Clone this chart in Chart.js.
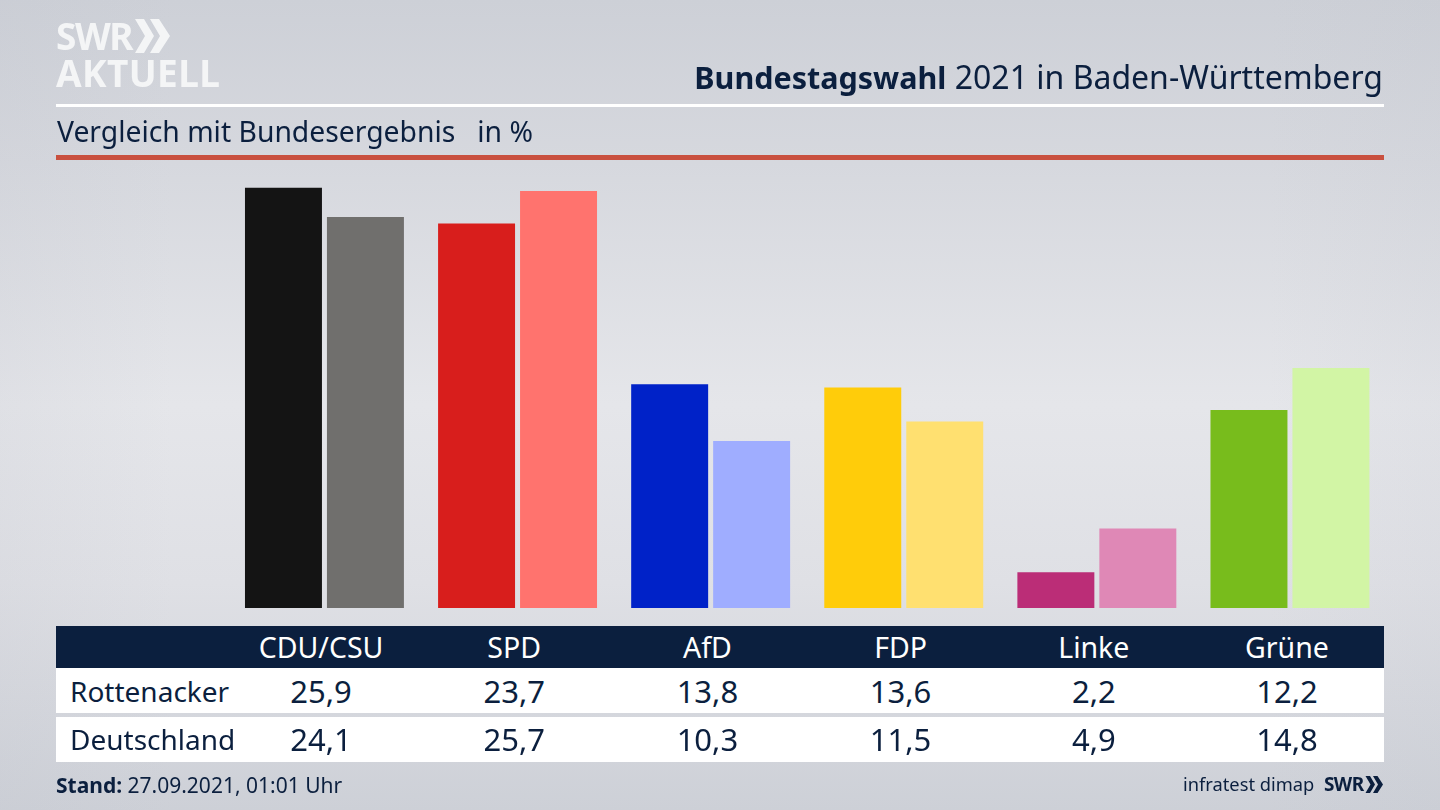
<!DOCTYPE html>
<html lang="de">
<head>
<meta charset="utf-8">
<title>Bundestagswahl 2021 in Baden-Württemberg</title>
<script src="https://cdn.jsdelivr.net/npm/chart.js@4"></script>
<style>
  html, body { margin: 0; padding: 0; width: 1440px; height: 810px; overflow: hidden; }
  body {
    position: relative;
    font-family: "Noto Sans", sans-serif;
    color: #0b1f3e;
    background:
      linear-gradient(90deg, rgba(190,193,202,.15) 0, rgba(190,193,202,0) 12%, rgba(190,193,202,0) 88%, rgba(190,193,202,.12) 100%),
      linear-gradient(180deg, #cdd0d7 0, #d6d8de 20%, #e5e6ea 50%, #dfe0e5 72%, #cdd0d7 100%);
  }
  canvas { position: absolute; left: 0; top: 0; }
  .abs { position: absolute; white-space: nowrap; line-height: 1; }
  .rule { position: absolute; left: 56px; width: 1328px; }
  .band { position: absolute; left: 56px; width: 1328px; }
  .cell { position: absolute; transform: translate(-50%, -50%); white-space: nowrap; line-height: 1; font-size: 28.5px; }
  .num { font-size: 31px; }
  .rowname { position: absolute; left: 70px; transform: translateY(-50%); white-space: nowrap; line-height: 1; font-size: 28px; }
</style>
</head>
<body>
<canvas id="chart" width="1440" height="810"></canvas>

<div class="abs" style="left:56px;top:17px;font-size:37px;font-weight:700;color:#f4f5f6;letter-spacing:-1.5px;">SWR</div>
<svg class="abs" style="left:135px;top:19px" width="36" height="34" viewBox="0 0 36 34">
  <polygon points="0,0 9,0 19,17 9,34 0,34 10,17" fill="#f4f5f6"/>
  <polygon points="15,0 24,0 35,17 24,34 15,34 25,17" fill="#f4f5f6"/>
</svg>
<div class="abs" style="left:56px;top:54px;font-size:37px;font-weight:700;color:#f4f5f6;letter-spacing:.4px;">AKTUELL</div>

<div class="abs" style="right:57px;top:61px;font-size:32px;"><b style="font-size:30.5px">Bundestagswahl</b> 2021 in Baden-Württemberg</div>
<div class="rule" style="top:104px;height:3px;background:#fff;"></div>
<div class="abs" style="left:57px;top:117px;font-size:28.3px;">Vergleich mit Bundesergebnis&nbsp;&nbsp; in %</div>
<div class="rule" style="top:155px;height:5px;background:#c9503f;"></div>

<div class="band" style="top:626px;height:42px;background:#0b1f3e;"></div>
<div class="band" style="top:668px;height:45px;background:#fff;"></div>
<div class="band" style="top:717px;height:45px;background:#fff;"></div>
<div id="table"></div>

<div class="abs" style="left:56px;top:775px;font-size:21px;"><b>Stand:</b> 27.09.2021, 01:01 Uhr</div>
<div class="abs" style="left:1183px;top:775px;font-size:18.3px;">infratest dimap</div>
<div class="abs" style="left:1324px;top:775px;font-size:19px;font-weight:700;letter-spacing:-.6px;">SWR</div>
<svg class="abs" style="left:1365px;top:776px" width="19" height="17" viewBox="0 0 36 34">
  <polygon points="0,0 9,0 19,17 9,34 0,34 10,17" fill="#0b1f3e"/>
  <polygon points="15,0 24,0 35,17 24,34 15,34 25,17" fill="#0b1f3e"/>
</svg>

<script>
const parties = ['CDU/CSU', 'SPD', 'AfD', 'FDP', 'Linke', 'Grüne'];
const rowNames = ['Rottenacker', 'Deutschland'];
const rottenacker = [25.9, 23.7, 13.8, 13.6, 2.2, 12.2];
const deutschland = [24.1, 25.7, 10.3, 11.5, 4.9, 14.8];
const strongColors = ['#141414', '#d81e1c', '#0022c8', '#ffcc0a', '#bb2d77', '#78bc1c'];
const lightColors = ['#706f6d', '#ff736e', '#9fadff', '#ffe070', '#df88b6', '#d2f5a5'];

const fmt = v => v.toFixed(1).replace('.', ',');

new Chart(document.getElementById('chart'), {
  type: 'bar',
  data: {
    labels: parties,
    datasets: [
      { label: rowNames[0], data: rottenacker, backgroundColor: strongColors },
      { label: rowNames[1], data: deutschland, backgroundColor: lightColors }
    ]
  },
  options: {
    responsive: false,
    animation: false,
    categoryPercentage: 0.849,
    barPercentage: 0.939,
    layout: { padding: { left: 227.9, right: 53.5, top: 170, bottom: 202 } },
    scales: {
      x: { display: false },
      y: { display: false, min: 0, max: 27 }
    },
    plugins: { legend: { display: false }, tooltip: { enabled: false } }
  }
});

// Tabelle unter dem Chart
const table = document.getElementById('table');
function addCell(cls, text, x, y, color) {
  const el = document.createElement('div');
  el.className = cls;
  el.textContent = text;
  if (x !== null) el.style.left = x + 'px';
  el.style.top = y + 'px';
  if (color) el.style.color = color;
  table.appendChild(el);
}
parties.forEach((p, i) => {
  const x = 321 + i * 193.2;
  addCell('cell', p, x, 647, '#fff');
  addCell('cell num', fmt(rottenacker[i]), x, 691);
  addCell('cell num', fmt(deutschland[i]), x, 739);
});
addCell('rowname', rowNames[0], null, 691);
addCell('rowname', rowNames[1], null, 739);
</script>
</body>
</html>
